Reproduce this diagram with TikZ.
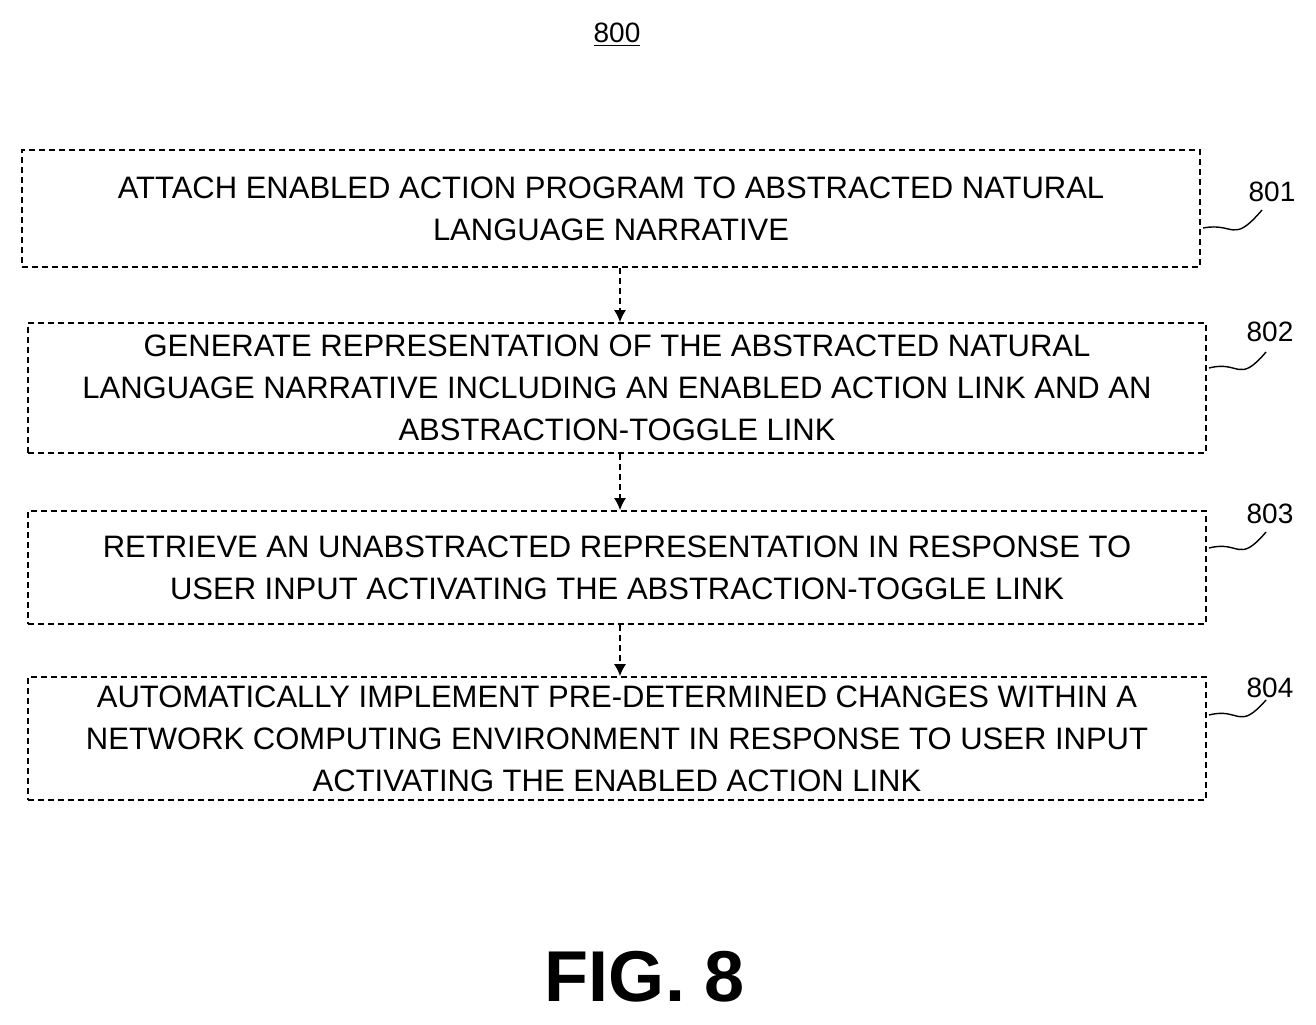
\documentclass[tikz,border=0pt]{standalone}
\usepackage{fontspec}
\setmainfont{Liberation Sans}
\usetikzlibrary{arrows.meta}
\begin{document}
\begin{tikzpicture}[x=0.5pt,y=-0.5pt,
  stepbox/.style={draw, densely dashed, line width=0.8pt, minimum width=589pt, align=center, font=\fontsize{15.5}{21}\selectfont, inner sep=0pt},
  flow/.style={densely dashed, line width=0.8pt, -{Latex[length=6pt,width=6pt]}},
  lab/.style={font=\fontsize{14}{16}\selectfont},
  sq/.style={line width=0.7pt}]
\useasboundingbox (0,0) rectangle (1316,1024);
\node[lab] (t) at (617,35) {\underline{800}};
\node[stepbox, minimum height=58.5pt] (b1) at (611,208.5) {ATTACH ENABLED ACTION PROGRAM TO ABSTRACTED NATURAL\\LANGUAGE NARRATIVE};
\node[stepbox, minimum height=65pt] (b2) at (617,388) {GENERATE REPRESENTATION OF THE ABSTRACTED NATURAL\\LANGUAGE NARRATIVE INCLUDING AN ENABLED ACTION LINK AND AN\\ABSTRACTION-TOGGLE LINK};
\node[stepbox, minimum height=56.5pt] (b3) at (617,567.5) {RETRIEVE AN UNABSTRACTED REPRESENTATION IN RESPONSE TO\\USER INPUT ACTIVATING THE ABSTRACTION-TOGGLE LINK};
\node[stepbox, minimum height=61.5pt] (b4) at (617,738.5) {AUTOMATICALLY IMPLEMENT PRE-DETERMINED CHANGES WITHIN A\\NETWORK COMPUTING ENVIRONMENT IN RESPONSE TO USER INPUT\\ACTIVATING THE ENABLED ACTION LINK};
\draw[flow] (b1.south -| 620,0) -- (b2.north -| 620,0);
\draw[flow] (b2.south -| 620,0) -- (b3.north -| 620,0);
\draw[flow] (b3.south -| 620,0) -- (b4.north -| 620,0);
\node[lab] (l1) at (1272,192) {801};
\node[lab] (l2) at (1270,332) {802};
\node[lab] (l3) at (1270,514) {803};
\node[lab] (l4) at (1270,688) {804};
\draw[sq] (1203,228) .. controls (1235,222) and (1232,245) .. (1262,210);
\draw[sq] (1209,368) .. controls (1240,360) and (1238,385) .. (1266,352);
\draw[sq] (1209,548) .. controls (1240,540) and (1238,565) .. (1266,532);
\draw[sq] (1209,715) .. controls (1240,707) and (1238,732) .. (1266,700);
\node[font=\fontsize{36}{40}\selectfont\bfseries] (fig) at (645,977) {FIG. 8};
\end{tikzpicture}
\end{document}
